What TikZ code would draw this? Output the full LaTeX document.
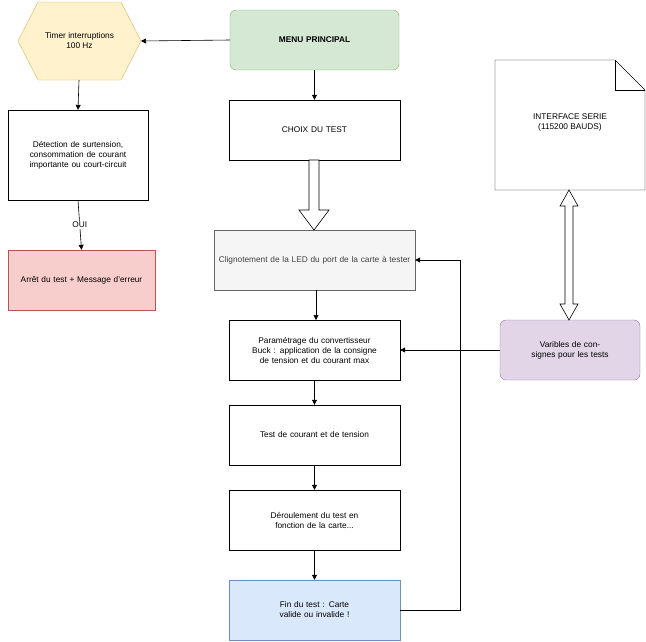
\documentclass[tikz,border=0pt]{standalone}
\usepackage{fontspec}
\setmainfont{Liberation Sans}
\usetikzlibrary{shapes.geometric,arrows.meta}
\definecolor{yfill}{HTML}{FFF2CC}\definecolor{ystroke}{HTML}{D6B656}
\definecolor{gfill}{HTML}{D5E8D4}\definecolor{gstroke}{HTML}{82B366}
\definecolor{rfill}{HTML}{F8CECC}\definecolor{rstroke}{HTML}{B85450}
\definecolor{bfill}{HTML}{DAE8FC}\definecolor{bstroke}{HTML}{6C8EBF}
\definecolor{pfill}{HTML}{E1D5E7}\definecolor{pstroke}{HTML}{9673A6}
\definecolor{lfill}{HTML}{F5F5F5}\definecolor{lstroke}{HTML}{666666}
\begin{document}
\begin{tikzpicture}[x=1pt,y=-1pt,font=\fontsize{8.3}{10}\selectfont,
  box/.style={draw,fill=white,align=center,inner sep=2pt,minimum width=171pt,minimum height=60pt,text width=165pt},
  arr/.style={-{Triangle[length=5pt,width=5pt]},line width=0.6pt}]
\useasboundingbox (0,0) rectangle (646,641);
\node[draw=ystroke,fill=yfill,regular polygon,regular polygon sides=6,shape border rotate=0,minimum width=0pt,inner sep=0pt,
  xscale=1, minimum size=0pt] at (-1000,-1000) {};
\path[draw=ystroke,fill=yfill] (18,41)--(38,2)--(121,2)--(141,41)--(121,80)--(38,80)--cycle;
\node[align=center] (hex) at (79.5,41) {Timer interruptions\\100 Hz};
\coordinate (hexR) at (141,41);
\coordinate (hexB) at (79,80);
\node[box,draw=gstroke,fill=gfill,rounded corners=6pt,minimum width=169pt,font=\fontsize{8.3}{10}\selectfont\bfseries] (menu) at (314.5,40) {MENU PRINCIPAL};
\node[box] (choix) at (314.5,130) {CHOIX DU TEST};
\node[box,draw=lstroke,fill=lfill,minimum width=201pt,text width=195pt,text=black!75] (clig) at (314.5,260) {Clignotement de la LED du port de la carte à tester};
\node[box,text width=160pt] (param) at (314.5,350) {Paramétrage du convertisseur Buck : application de la consigne de tension et du courant max};
\node[box] (test) at (314.5,435) {Test de courant et de tension};
\node[box,text width=140pt] (der) at (314.5,520) {Déroulement du test en fonction de la carte...};
\node[box,draw=bstroke,fill=bfill,text width=140pt] (fin) at (314.5,610) {Fin du test : Carte valide ou invalide !};
\node[box,minimum width=140pt,minimum height=90pt,text width=134pt] (det) at (78,155) {Détection de surtension, consommation de courant importante ou court-circuit};
\node[box,draw=rstroke,fill=rfill,minimum width=147pt,text width=140pt] (arret) at (81.5,280) {Arrêt du test + Message d'erreur};
\node[box,draw=pstroke,fill=pfill,rounded corners=6pt,minimum width=140pt,text width=120pt] (var) at (570,350) {Varibles de consignes pour les tests};
% note
\path[draw,fill=white] (495,60)--(615,60)--(645,90)--(645,190)--(495,190)--cycle;
\draw (615,60)--(615,90)--(645,90);
\node[align=center,anchor=north] (note) at (570,110) {INTERFACE SERIE\\(115200 BAUDS)};
% arrows
\draw[arr] (menu.west) -- (hexR);
\draw[arr] (hexB) -- (det.north);
\draw[arr] (det.south) -- node[fill=white,inner sep=1pt,pos=0.5]{OUI} (arret.north);
\draw[arr] (menu.south) -- (choix.north);
\draw[arr] (316,290) -- (316,320);
\draw[arr] (param.south) -- (test.north);
\draw[arr] (test.south) -- (der.north);
\draw[arr] (der.south) -- (fin.north);
\draw[arr] (fin.east) -- (460,610) -- (460,260) -- (clig.east);
\draw[arr] (var.west) -- (param.east);
% block arrow
\path[draw,fill=white,line width=0.6pt] (309,160)--(319,160)--(319,210)--(329,210)--(314,230)--(299,210)--(309,210)--cycle;
% double arrow
\path[draw,fill=white,line width=0.6pt] (569,190)--(578,206)--(573,206)--(573,304)--(578,304)--(569,320)--(560,304)--(565,304)--(565,206)--(560,206)--cycle;
\end{tikzpicture}
\end{document}
